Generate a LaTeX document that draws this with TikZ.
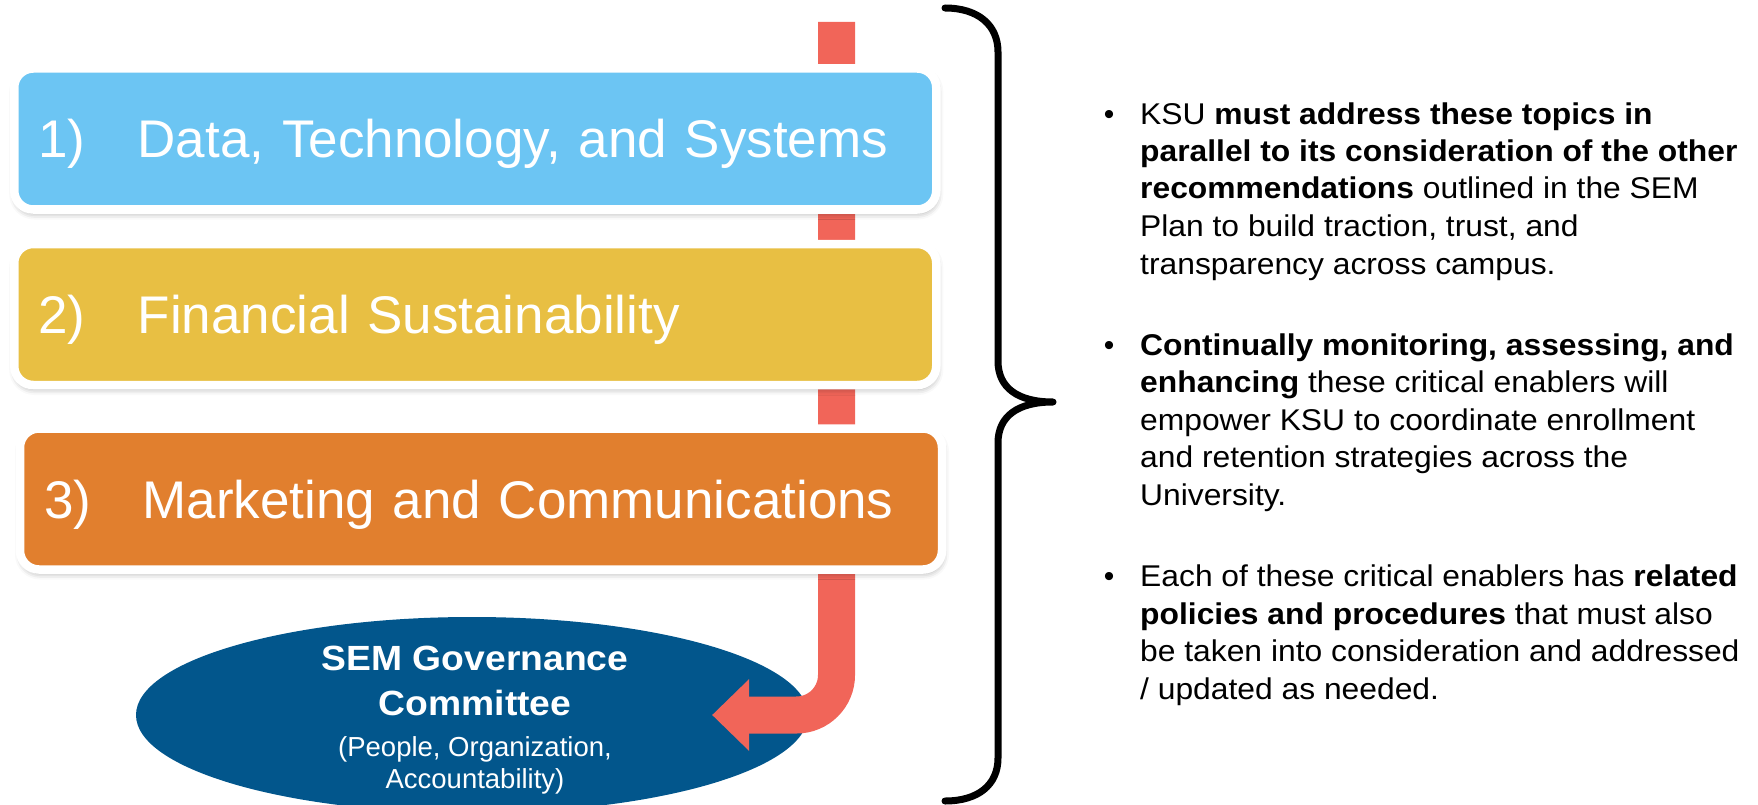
\documentclass[tikz,border=0pt]{standalone}
\usepackage{fontspec}
\setmainfont{Liberation Sans}[BoldFeatures={FakeStretch=1.065}]
\newfontfamily\bulfont{Liberation Sans}[FakeStretch=1.06]
\usetikzlibrary{shapes.geometric,arrows.meta,shadows.blur}
\definecolor{cblue}{RGB}{108,197,243}
\definecolor{cyellow}{RGB}{232,191,67}
\definecolor{corange}{RGB}{225,127,46}
\definecolor{cred}{RGB}{241,101,89}
\definecolor{cnavy}{RGB}{2,86,140}
\begin{document}
\begin{tikzpicture}[x=1pt,y=-1pt,
  boxstyle/.style={draw=white, line width=8.5pt, rounded corners=19pt,
    minimum width=922pt, minimum height=141pt, inner xsep=24pt, inner ysep=0pt,
    text width=874pt, align=left, text=white,
    font=\fontsize{53}{60}\selectfont, text height=38pt, text depth=0pt,
    blur shadow={shadow xshift=1pt, shadow yshift=-4pt, shadow blur radius=6pt, shadow opacity=35}},
  govb/.style={text=white, font=\fontsize{35}{40}\selectfont\bfseries, inner sep=0pt, anchor=base},
  govr/.style={text=white, font=\fontsize{27.5}{32}\selectfont, inner sep=0pt, anchor=base},
  txt/.style={text=black, font=\bulfont\fontsize{30}{37}\selectfont, inner sep=0pt, anchor=base west},
  bul/.style={text=black, font=\fontsize{30}{37}\selectfont, inner sep=0pt, anchor=base},
  connector/.style={draw=cred, line width=37pt, rounded corners=40pt,
    -{Triangle[length=37pt,width=72pt,line width=0pt]}},
  bracestyle/.style={draw=black, line width=7pt, line join=round, line cap=round}]
\useasboundingbox (0,0) rectangle (1758,805);
\clip (0,0) rectangle (1758,805);

% governance ellipse
\node[ellipse, fill=cnavy, minimum width=672pt, minimum height=196pt, inner sep=0pt] (gov) at (472,715) {};

% red connector
\coordinate (rtop) at (836.5,22);
\draw[connector] (rtop) |- ([xshift=-96pt]gov.east);

% boxes
\node[boxstyle, fill=cblue] (b1) at (475.25,139) {\makebox[99.5pt][l]{1)}Data, Technology, and Systems};
\node[boxstyle, fill=cyellow] (b2) at (475.25,314.5) {\makebox[99.5pt][l]{2)}Financial Sustainability};
\node[boxstyle, fill=corange] (b3) at (481,499) {\makebox[98.5pt][l]{3)}Marketing and Communications};

% ellipse text
\node[govb] (g1) at (475,670) {SEM Governance};
\node[govb] (g2) at (475,715) {Committee};
\node[govr] (g3) at (475,756) {(People, Organization,};
\node[govr] (g4) at (475,788) {Accountability)};

% brace
\draw[bracestyle] (945,8) .. controls (978,8) and (998,25) .. (998,52)
  -- (998,361) .. controls (998,388) and (1018,402) .. (1053,402)
  .. controls (1018,402) and (998,416) .. (998,443)
  -- (998,758) .. controls (998,785) and (978,801) .. (945,801);

% bullets
\node[bul] (d1) at (1109,124.3) {•};
\node[bul] (d2) at (1109,355) {•};
\node[bul] (d3) at (1109,586.5) {•};

\node[txt] (l1) at (1140,124.3) {KSU \textbf{must address these topics in}};
\node[txt] (l2) at (1140,161.7) {\textbf{parallel to its consideration of the other}};
\node[txt] (l3) at (1140,199) {\textbf{recommendations} outlined in the SEM};
\node[txt] (l4) at (1140,236.5) {Plan to build traction, trust, and};
\node[txt] (l5) at (1140,274) {transparency across campus.};

\node[txt] (l6) at (1140,355) {\textbf{Continually monitoring, assessing, and}};
\node[txt] (l7) at (1140,392.5) {\textbf{enhancing} these critical enablers will};
\node[txt] (l8) at (1140,430) {empower KSU to coordinate enrollment};
\node[txt] (l9) at (1140,467.5) {and retention strategies across the};
\node[txt] (l10) at (1140,505) {University.};

\node[txt] (l11) at (1140,586.5) {Each of these critical enablers has \textbf{related}};
\node[txt] (l12) at (1140,624) {\textbf{policies and procedures} that must also};
\node[txt] (l13) at (1140,661.5) {be taken into consideration and addressed};
\node[txt] (l14) at (1140,699) {/ updated as needed.};
\end{tikzpicture}
\end{document}
